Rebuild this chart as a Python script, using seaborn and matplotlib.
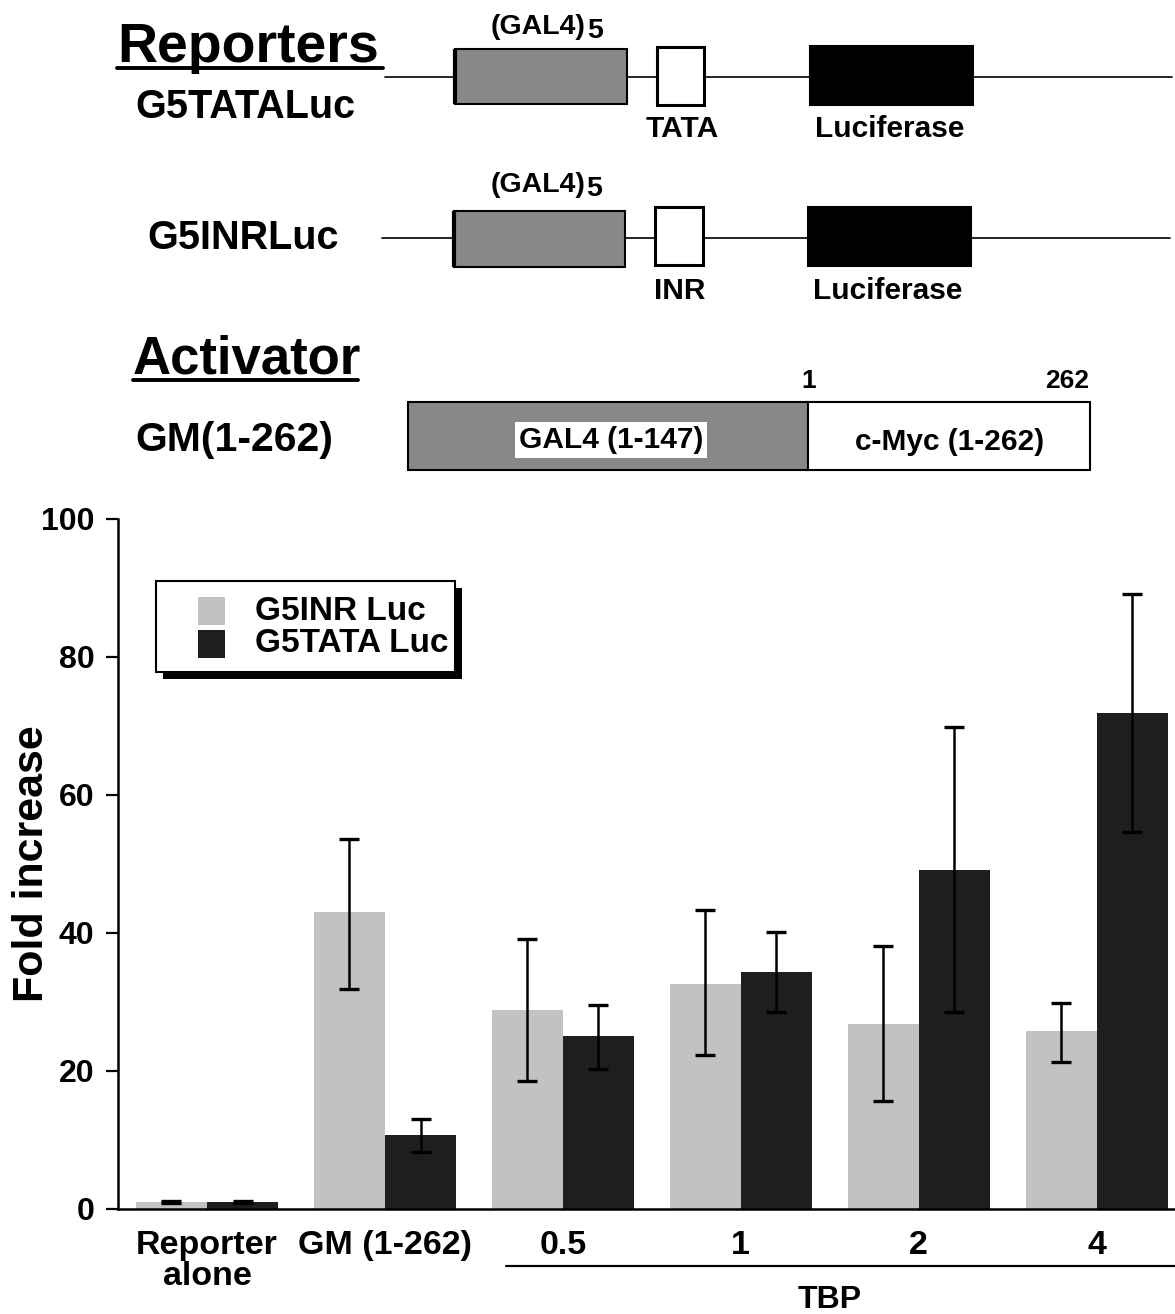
import numpy as np
import pandas as pd
import matplotlib
matplotlib.use("Agg")
import matplotlib.pyplot as plt
import matplotlib.patches as mpatches
import matplotlib.transforms as mtransforms
import seaborn as sns

# ---------------- data ----------------
conditions = ["Reporter\nalone", "GM (1-262)", "0.5", "1", "2", "4"]
series = ["G5INR Luc", "G5TATA Luc"]
inr_mean = [1.0, 43.0, 28.8, 32.6, 26.8, 25.8]
inr_lo = [0.9, 31.9, 18.6, 22.3, 15.7, 21.3]
inr_hi = [1.2, 53.6, 39.1, 43.3, 38.1, 29.9]
tata_mean = [1.0, 10.7, 25.1, 34.3, 49.1, 71.9]
tata_lo = [0.9, 8.3, 20.3, 28.5, 28.5, 54.6]
tata_hi = [1.2, 13.0, 29.6, 40.2, 69.8, 89.1]
y_ticks = [0, 20, 40, 60, 80, 100]
bar_colors = ["#c2c2c2", "#1e1e1e"]
group_label = "TBP"

sns.set_style("white")
plt.rcParams["font.family"] = ["Liberation Sans", "DejaVu Sans"]
plt.rcParams["font.weight"] = "bold"
plt.rcParams["text.color"] = "black"
plt.rcParams["axes.labelcolor"] = "black"
plt.rcParams["xtick.color"] = "black"
plt.rcParams["ytick.color"] = "black"

W, H = 1175, 1314
fig = plt.figure(figsize=(W / 100, H / 100), dpi=100)

# ---------------- bar chart ----------------
ax = fig.add_axes([118 / W, 1 - 1209 / H, (1175 - 118) / W, 690 / H])
df = pd.DataFrame({
    "condition": conditions * 2,
    "reporter": [series[0]] * len(conditions) + [series[1]] * len(conditions),
    "fold": inr_mean + tata_mean,
})
sns.barplot(data=df, x="condition", y="fold", hue="reporter", order=conditions,
            hue_order=series, palette=bar_colors, errorbar=None, width=0.8,
            saturation=1, ax=ax, legend=False, linewidth=0)

for cont, mean, lo, hi in zip(ax.containers, [inr_mean, tata_mean],
                              [inr_lo, tata_lo], [inr_hi, tata_hi]):
    xs = [p.get_x() + p.get_width() / 2 for p in cont.patches]
    m = np.array(mean)
    yerr = [m - np.array(lo), np.array(hi) - m]
    ax.errorbar(xs, m, yerr=yerr, fmt="none", ecolor="black", elinewidth=1.8,
                capsize=7, capthick=2.4, zorder=5)

ax.set_xlim(-0.5, 5.44)
ax.set_ylim(0, 100)
ax.set_yticks(y_ticks)
for s in ["top", "right"]:
    ax.spines[s].set_visible(False)
for s in ["left", "bottom"]:
    ax.spines[s].set_color("black")
    ax.spines[s].set_linewidth(1.8)
ax.tick_params(axis="y", left=True, length=9, width=1.6, direction="out",
               pad=8, labelsize=23, colors="black")
ax.tick_params(axis="x", bottom=False, length=0, pad=15, labelsize=24.5, colors="black")
for t in ax.get_xticklabels():
    t.set_linespacing(1.02)
    t.set_fontweight("bold")
for t in ax.get_yticklabels():
    t.set_fontweight("bold")
ax.set_xlabel("")
ax.set_ylabel("Fold increase", fontsize=31, fontweight="bold", color="black")
ax.yaxis.set_label_coords(-0.062, 0.5)
ax.patch.set_alpha(0)

# TBP bracket
trans = mtransforms.blended_transform_factory(ax.transData, ax.transAxes)
ax.plot([1.68, 5.44], [-0.083, -0.083], color="black", lw=1.6, transform=trans, clip_on=False)
ax.text(3.5, -0.132, group_label, transform=trans, ha="center", va="center",
        fontsize=23, fontweight="bold", color="black")

# ---------------- diagram overlay ----------------
axd = fig.add_axes([0, 0, 1, 1], zorder=10)
axd.set_xlim(0, W)
axd.set_ylim(H, 0)
axd.axis("off")
axd.patch.set_alpha(0)


def box(x0, x1, y0, y1, fc, lw=1.5, thick_left=False):
    axd.add_patch(mpatches.Rectangle((x0, y0), x1 - x0, y1 - y0, facecolor=fc,
                                     edgecolor="black", lw=lw, zorder=3))
    if thick_left:
        axd.plot([x0, x0], [y0, y1], color="black", lw=3, zorder=4, solid_capstyle="butt")


# Reporters title
axd.text(117, 62, "Reporters", fontsize=40, fontweight="bold", va="baseline", ha="left")
axd.plot([117, 383], [68, 68], color="black", lw=2.8)

rows = [
    dict(yc=77, name="G5TATALuc", name_x=135, name_y=107, grey=(455, 627, 49, 104),
         white=(657, 704, 47, 105), black=(810, 973, 46, 105), elem="TATA",
         elem_x=682, lab_y=129, gal_y=34, line=(385, 1172)),
    dict(yc=238, name="G5INRLuc", name_x=147, name_y=238, grey=(454, 625, 211, 267),
         white=(655, 703, 207, 265), black=(808, 971, 207, 266), elem="INR",
         elem_x=680, lab_y=291, gal_y=192, line=(382, 1170)),
]
for r in rows:
    axd.plot(list(r["line"]), [r["yc"], r["yc"]], color="black", lw=1.2, zorder=1)
    box(*r["grey"], fc="#888888", lw=1.5, thick_left=True)
    box(*r["white"], fc="white", lw=2.2)
    box(*r["black"], fc="black", lw=1.5)
    gx = r["grey"][0] + 131
    axd.text(gx, r["gal_y"], "(GAL4)", fontsize=20.5, fontweight="bold", ha="right", va="baseline")
    axd.text(gx + 1, r["gal_y"] + 4, "5", fontsize=20.5, fontweight="bold", ha="left", va="baseline")
    axd.text(r["elem_x"], r["lab_y"], r["elem"], fontsize=21.5, fontweight="bold", ha="center", va="center")
    axd.text((r["black"][0] + r["black"][1]) / 2 - 2, r["lab_y"], "Luciferase", fontsize=21.5,
             fontweight="bold", ha="center", va="center")
    axd.text(r["name_x"], r["name_y"], r["name"], fontsize=28.5, fontweight="bold",
             ha="left", va="center")

# Activator
axd.text(133, 373, "Activator", fontsize=38, fontweight="bold", va="baseline", ha="left")
axd.plot([133, 358], [380, 380], color="black", lw=2.8)
axd.text(809, 381, "1", fontsize=19, fontweight="bold", ha="center", va="center")
axd.text(1067, 381, "262", fontsize=19, fontweight="bold", ha="center", va="center")
box(408, 808, 402, 470, fc="#888888", lw=1.5)
box(808, 1090, 402, 470, fc="white", lw=1.5)
axd.text(611, 440, "GAL4 (1-147)", fontsize=21.5, fontweight="bold", ha="center", va="center",
         bbox=dict(boxstyle="square,pad=0.12", fc="white", ec="none"), zorder=5)
axd.text(950, 442, "c-Myc (1-262)", fontsize=21.5, fontweight="bold", ha="center", va="center", zorder=5)
axd.text(135, 440, "GM(1-262)", fontsize=29.5, fontweight="bold", ha="left", va="center")

# Legend (with drop shadow)
axd.add_patch(mpatches.Rectangle((163, 588), 299, 91, facecolor="black", edgecolor="none", zorder=6))
axd.add_patch(mpatches.Rectangle((156, 581), 299, 91, facecolor="white", edgecolor="black", lw=1.5, zorder=7))
for i, (lab, c) in enumerate(zip(series, bar_colors)):
    y0 = 597 + i * 33
    axd.add_patch(mpatches.Rectangle((198, y0), 27, 28, facecolor=c, edgecolor="none", zorder=8))
    axd.text(255, y0 + 14, lab, fontsize=24, fontweight="bold", ha="left", va="center", zorder=8)

fig.savefig("out.png", dpi=100)
